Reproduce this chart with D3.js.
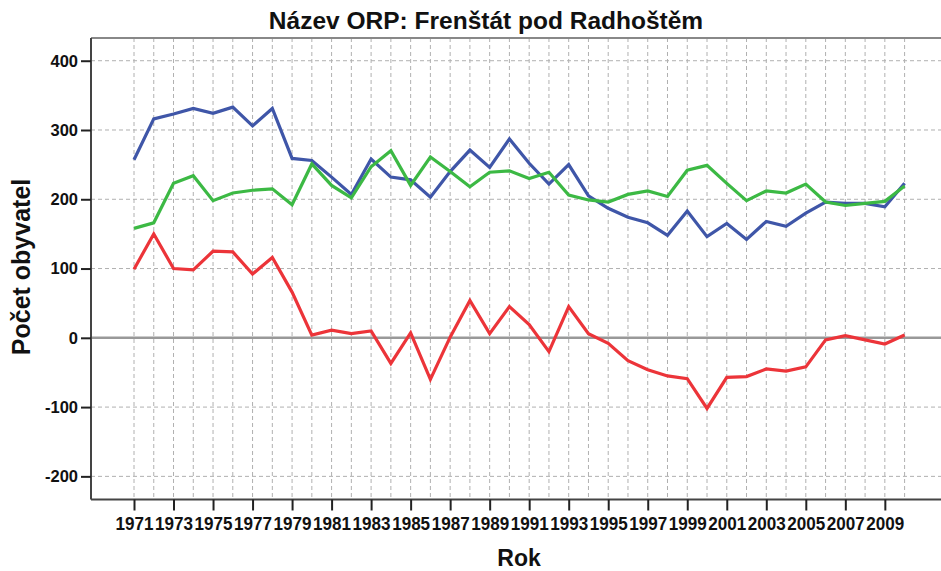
<!DOCTYPE html>
<html><head><meta charset="utf-8">
<script src="https://cdn.jsdelivr.net/npm/d3@7"></script>
<style>body{margin:0;background:#fff}svg{display:block;font-family:"Liberation Sans",Arial,sans-serif}</style>
</head><body><svg id="c" width="941" height="571"></svg>
<script>
const years = d3.range(1971, 2011);
const blue = [257,316,323,331,324,333,306,331,259,256,232,207,258,232,228,203,240,271,246,287,252,222,250,205,187,174,166,148,183,146,165,142,168,161,180,196,194,194,189,223];
const green = [158,166,223,234,198,209,213,215,192,251,220,202,247,270,220,261,240,218,239,241,230,239,206,199,196,207,212,204,242,249,223,198,212,209,222,196,191,194,197,219];
const red = [99,150,100,98,125,124,92,116,66,4,11,6,10,-37,7,-60,1,54,6,45,19,-20,45,6,-8,-33,-46,-55,-59,-102,-57,-56,-45,-48,-42,-3,3,-3,-9,4];
const yTicks = [400,300,200,100,0,-100,-200];
const xTickYears = d3.range(1971, 2010, 2);
const title = "Název ORP: Frenštát pod Radhoštěm";
const xTitle = "Rok", yTitle = "Počet obyvatel";

const svg = d3.select("#c");
const L = 91, R = 941, T = 38, B = 499.5;
const x = d3.scaleLinear().domain([1971, 2010]).range([134, 904.6]);
const y = d3.scaleLinear().domain([-233.4, 432.8]).range([B, T]);

// grid
const g = svg.append("g");
g.selectAll("line.vg").data(years).join("line")
  .attr("x1", d => x(d)).attr("x2", d => x(d)).attr("y1", T).attr("y2", B)
  .attr("stroke", "#b0b0b0").attr("stroke-width", 1).attr("stroke-dasharray", "4,3");
g.selectAll("line.hg").data(yTicks.filter(d => d !== 0)).join("line")
  .attr("x1", L).attr("x2", R).attr("y1", d => y(d)).attr("y2", d => y(d))
  .attr("stroke", "#b0b0b0").attr("stroke-width", 1).attr("stroke-dasharray", "4,3");
// zero line
svg.append("line").attr("x1", L).attr("x2", R).attr("y1", y(0)).attr("y2", y(0))
  .attr("stroke", "#999").attr("stroke-width", 2.5);
// frame top
svg.append("line").attr("x1", L).attr("x2", R).attr("y1", T).attr("y2", T)
  .attr("stroke", "#888").attr("stroke-width", 2);

// axes
const yAxis = svg.append("g").attr("transform", `translate(${L},0)`)
  .call(d3.axisLeft(y).tickValues(yTicks).tickFormat(d => String(d)).tickSize(10).tickPadding(3));
yAxis.select(".domain").attr("d", `M0,${T}V${B}`).attr("stroke", "#444").attr("stroke-width", 2);
yAxis.selectAll(".tick line").attr("stroke", "#222").attr("stroke-width", 2);
yAxis.selectAll(".tick text").attr("font-size", 16.5).attr("font-weight", "bold").attr("fill", "#111")
  .attr("font-family", "Liberation Sans, Arial, sans-serif");

const xAxis = svg.append("g").attr("transform", `translate(0,${B})`)
  .call(d3.axisBottom(x).tickValues(xTickYears).tickFormat(d3.format("d")).tickSize(11).tickPadding(6));
xAxis.select(".domain").attr("d", `M${L},0H${R}`).attr("stroke", "#444").attr("stroke-width", 2);
xAxis.selectAll(".tick line").attr("stroke", "#222").attr("stroke-width", 2);
xAxis.selectAll(".tick text").attr("font-size", 18.5).attr("font-weight", "bold").attr("fill", "#111")
  .attr("font-family", "Liberation Sans, Arial, sans-serif")
  .attr("textLength", 38).attr("lengthAdjust", "spacingAndGlyphs");

// lines
const series = [[blue, "#3f56a8"], [green, "#3cb944"], [red, "#ec3439"]];
const line = d3.line().x((d, i) => x(years[i])).y(d => y(d));
series.forEach(([vals, col]) => {
  svg.append("path").datum(vals).attr("d", line).attr("fill", "none")
    .attr("stroke", col).attr("stroke-width", 3.2).attr("stroke-linejoin", "miter");
});

// titles
svg.append("text").attr("x", 486).attr("y", 29).attr("text-anchor", "middle")
  .attr("font-size", 24.5).attr("font-weight", "bold").attr("fill", "#111").text(title);
svg.append("text").attr("x", 519).attr("y", 566).attr("text-anchor", "middle")
  .attr("font-size", 23).attr("font-weight", "bold").attr("fill", "#111").text(xTitle);
svg.append("text").attr("transform", "translate(30,267) rotate(-90)").attr("text-anchor", "middle")
  .attr("font-size", 25).attr("font-weight", "bold").attr("fill", "#111").text(yTitle);
</script></body></html>
